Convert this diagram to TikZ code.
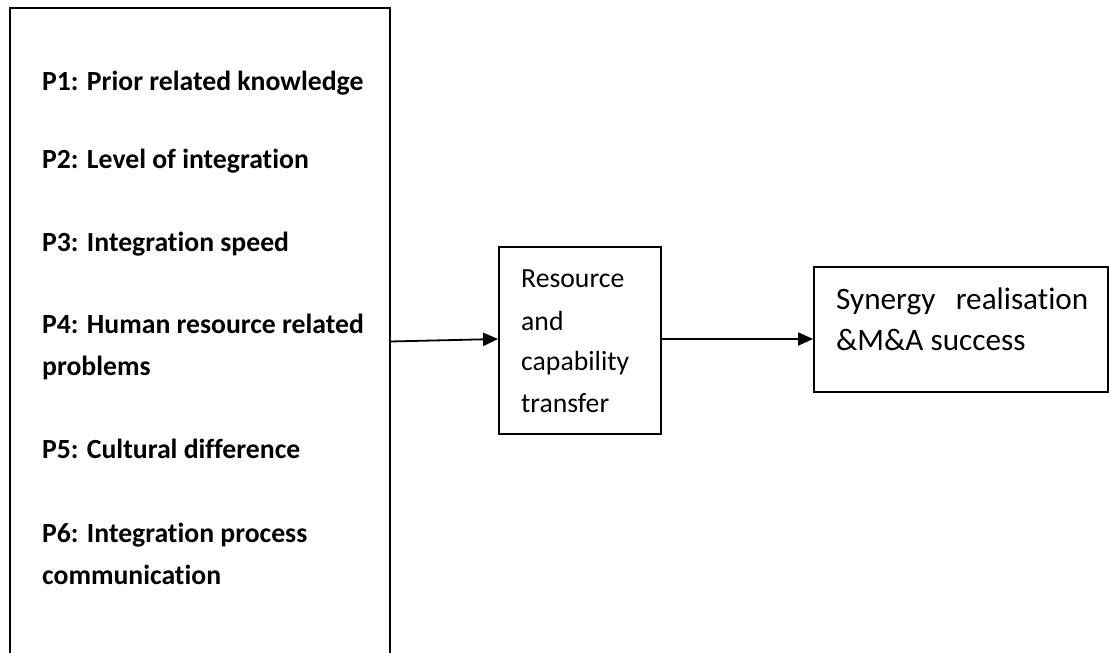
\documentclass[tikz,border=0pt]{standalone}
\usepackage{fontspec}
\setmainfont{Carlito}[Ligatures=NoCommon]
\usetikzlibrary{arrows.meta}
\begin{document}
\begin{tikzpicture}[x=1pt,y=-1pt,
  frame/.style={draw=black,line width=1.8pt},
  factor/.style={anchor=base west,inner sep=0pt,font=\fontsize{27.7}{33}\selectfont\bfseries},
  plain/.style={anchor=base west,inner sep=0pt,font=\fontsize{27.7}{33}\selectfont},
  big/.style={anchor=base west,inner sep=0pt,font=\fontsize{31.2}{37}\selectfont},
  link/.style={line width=1.8pt,-{Triangle[length=15pt,width=13pt]}}]
\useasboundingbox (0,0) rectangle (1109,653);

% boxes
\node[frame,minimum width=380pt,minimum height=650pt,inner sep=0pt] (factors) at (200,333) {};
\node[frame,minimum width=162pt,minimum height=187pt,inner sep=0pt] (transfer) at (580,340.5) {};
\node[frame,minimum width=294pt,minimum height=125pt,inner sep=0pt] (success) at (961,329.5) {};

% propositions
\node[factor] (p1) at (42,90) {P1: Prior related knowledge};
\node[factor] (p2) at (42,168) {P2: Level of integration};
\node[factor] (p3) at (42,251) {P3: Integration speed};
\node[factor] (p4a) at (42,333) {P4: Human resource related};
\node[factor] (p4b) at (42,375) {problems};
\node[factor] (p5) at (42,458) {P5: Cultural difference};
\node[factor] (p6a) at (42,542) {P6: Integration process};
\node[factor] (p6b) at (42,584) {communication};

% mediator
\node[plain] (t1) at (521,287) {Resource};
\node[plain] (t2) at (521,330) {and};
\node[plain] (t3) at (521,370) {capability};
\node[plain] (t4) at (521,412) {transfer};

% outcome
\node[big] (s1) at (836,309) {Synergy\hspace{0.65em}realisation};
\node[big] (s2) at (836,350) {\&M\&A success};

% connectors
\coordinate (out) at (390,341.5);
\draw[link] (out) -- (transfer.west |- 0,339);
\draw[link] (transfer.east |- 0,339) -- (success.west |- 0,339);
\end{tikzpicture}
\end{document}
